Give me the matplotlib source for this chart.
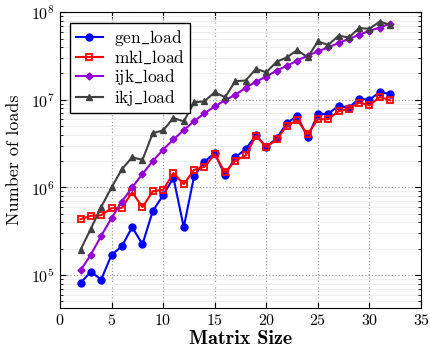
import matplotlib
matplotlib.use("Agg")
import matplotlib.pyplot as plt
from matplotlib.ticker import LogLocator, NullFormatter

plt.rcParams['font.family'] = 'serif'
plt.rcParams['font.serif'] = ['cmr10', 'DejaVu Serif']
plt.rcParams['mathtext.fontset'] = 'cm'
plt.rcParams['axes.formatter.use_mathtext'] = True

# matrix sizes
sizes = list(range(2, 33))

gen_load = [82e3, 109e3, 89e3, 170e3, 213e3, 352e3, 225e3, 538e3, 815e3, 1.29e6,
            352e3, 1.34e6, 1.97e6, 2.46e6, 1.38e6, 2.21e6, 2.73e6, 3.95e6, 2.91e6, 3.62e6,
            5.44e6, 6.54e6, 3.72e6, 6.84e6, 6.96e6, 8.5e6, 8.15e6, 1.03e7, 1.0e7, 1.23e7, 1.16e7]
mkl_load = [435e3, 474e3, 483e3, 580e3, 585e3, 881e3, 596e3, 905e3, 937e3, 1.46e6,
            1.09e6, 1.59e6, 1.72e6, 2.38e6, 1.49e6, 2.02e6, 2.32e6, 3.88e6, 2.88e6, 3.53e6,
            5.04e6, 5.85e6, 4.03e6, 6.0e6, 6.0e6, 7.4e6, 7.9e6, 9.3e6, 8.65e6, 1.08e7, 9.86e6]
ijk_load = [113e3, 171e3, 281e3, 447e3, 690e3, 1.0e6, 1.43e6, 2.0e6, 2.7e6, 3.53e6,
            4.5e6, 5.7e6, 7.0e6, 8.4e6, 9.9e6, 1.14e7, 1.37e7, 1.61e7, 1.84e7, 2.15e7,
            2.45e7, 2.8e7, 3.19e7, 3.57e7, 3.96e7, 4.45e7, 4.94e7, 5.53e7, 6.13e7, 6.68e7, 7.42e7]
ikj_load = [195e3, 338e3, 598e3, 1.0e6, 1.61e6, 2.21e6, 2.06e6, 4.17e6, 4.47e6, 6.2e6,
            5.66e6, 9.35e6, 9.6e6, 1.22e7, 1.07e7, 1.63e7, 1.66e7, 2.25e7, 2.06e7, 2.72e7,
            3.05e7, 3.7e7, 3.05e7, 4.63e7, 4.22e7, 5.38e7, 5.14e7, 6.58e7, 6.46e7, 7.82e7, 7.16e7]

fig = plt.figure(figsize=(4.31, 3.47), dpi=100)
ax = fig.add_axes([0.139, 0.112, 0.838, 0.853])

ax.plot(sizes, gen_load, color='blue', marker='o', ms=5, lw=1.5, label=r'gen$\_$load')
ax.plot(sizes, mkl_load, color='red', marker='s', ms=5, mfc='none', mew=1.3, lw=1.5,
        label=r'mkl$\_$load')
ax.plot(sizes, ijk_load, color='#9400D3', marker='D', ms=3.5, lw=1.5, label=r'ijk$\_$load')
ax.plot(sizes, ikj_load, color='#404040', marker='^', ms=5, lw=1.5, label=r'ikj$\_$load')

ax.set_yscale('log')
ax.set_xlim(0, 35)
ax.set_ylim(4.2e4, 1e8)
ax.set_xticks(range(0, 36, 5))
ax.yaxis.set_major_locator(LogLocator(base=10, numticks=10))
ax.yaxis.set_minor_locator(LogLocator(base=10, subs=range(2, 10), numticks=20))
ax.yaxis.set_minor_formatter(NullFormatter())

# grids: dotted major, faint minor on y
ax.grid(True, which='major', ls=':', color='#999999', lw=0.9)
ax.grid(True, which='minor', axis='y', ls='-', color='#eeeeee', lw=0.8)
ax.set_axisbelow(True)

ax.tick_params(which='both', direction='in', top=True, right=True, labelsize=11.5)
ax.tick_params(which='major', length=4)
ax.tick_params(which='minor', length=2)

ax.set_xlabel('Matrix Size', fontsize=14.5, fontname='cmb10', va='center')
ax.xaxis.set_label_coords(0.5, -0.105)
ax.set_ylabel('Number of loads', fontsize=13, va='center')
ax.yaxis.set_label_coords(-0.125, 0.5)

leg = ax.legend(loc='upper left', fontsize=12.5, fancybox=False, edgecolor='black',
                framealpha=1, borderaxespad=0.6, handlelength=1.6, labelspacing=0.05,
                borderpad=0.3, handletextpad=0.6)
leg.get_frame().set_linewidth(1.0)

fig.savefig('out.png', dpi=100)
